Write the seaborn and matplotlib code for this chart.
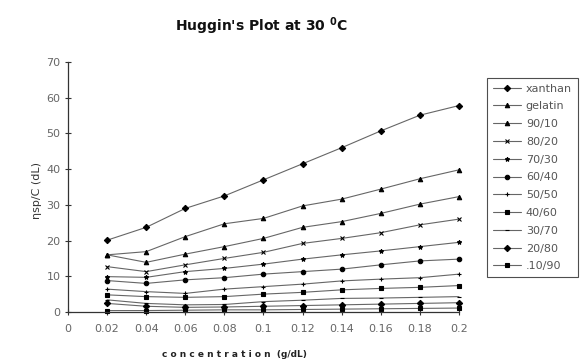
# Huggin's plot: reduced viscosity vs concentration for xanthan/gelatin blends
import numpy as np
import pandas as pd
import matplotlib
matplotlib.use("Agg")
import matplotlib.pyplot as plt
import seaborn as sns

conc = [0.02, 0.04, 0.06, 0.08, 0.1, 0.12, 0.14, 0.16, 0.18, 0.2]
series_names = ["xanthan", "gelatin", "90/10", "80/20", "70/30", "60/40",
                "50/50", "40/60", "30/70", "20/80", ".10/90"]
xanthan = [20.1, 23.7, 29.0, 32.5, 37.0, 41.5, 46.0, 50.7, 55.1, 57.8]
gelatin = [16.0, 16.9, 21.1, 24.7, 26.2, 29.7, 31.6, 34.4, 37.3, 39.8]
blend_90_10 = [16.0, 13.9, 16.2, 18.3, 20.6, 23.7, 25.3, 27.6, 30.2, 32.3]
blend_80_20 = [12.7, 11.3, 13.2, 15.0, 16.7, 19.2, 20.6, 22.2, 24.4, 26.0]
blend_70_30 = [9.9, 9.7, 11.3, 12.2, 13.4, 14.8, 16.0, 17.1, 18.3, 19.5]
blend_60_40 = [8.8, 8.0, 9.0, 9.6, 10.6, 11.3, 12.0, 13.2, 14.3, 14.8]
blend_50_50 = [6.4, 5.7, 5.2, 6.4, 7.1, 7.8, 8.7, 9.2, 9.6, 10.6]
blend_40_60 = [4.8, 4.3, 4.1, 4.3, 5.0, 5.5, 6.2, 6.6, 6.9, 7.4]
blend_30_70 = [3.4, 2.4, 2.0, 2.1, 2.9, 3.3, 3.8, 3.9, 4.1, 4.3]
blend_20_80 = [2.4, 1.6, 1.3, 1.4, 1.6, 1.8, 2.0, 2.2, 2.4, 2.6]
blend_10_90 = [0.4, 0.4, 0.5, 0.6, 0.6, 0.7, 0.8, 0.9, 1.0, 1.1]

all_values = [xanthan, gelatin, blend_90_10, blend_80_20, blend_70_30, blend_60_40,
              blend_50_50, blend_40_60, blend_30_70, blend_20_80, blend_10_90]
markers = ["D", "^", "^", "x", "*", "o", "+", "s", "_", "D", "s"]

df = pd.DataFrame({
    "conc": np.tile(conc, len(series_names)),
    "value": np.concatenate(all_values),
    "series": np.repeat(series_names, len(conc)),
})

sns.set_style("white")
plt.rcParams["font.family"] = ["DejaVu Sans"]

fig = plt.figure(figsize=(5.84, 3.64), dpi=100)
ax = fig.add_axes([0.1164, 0.1429, 0.6695, 0.6868])

for name, mk in zip(series_names, markers):
    sub = df[df["series"] == name]
    sns.lineplot(data=sub, x="conc", y="value", ax=ax, color="#666666",
                 linewidth=0.8, marker=mk, markersize=3.2,
                 markerfacecolor="black", markeredgecolor="black",
                 markeredgewidth=0.8, label=name, clip_on=False)

ax.set_xlim(0, 0.2)
ax.set_ylim(0, 70)
ax.set_xticks([0, 0.02, 0.04, 0.06, 0.08, 0.1, 0.12, 0.14, 0.16, 0.18, 0.2])
ax.set_xticklabels(["0", "0.02", "0.04", "0.06", "0.08", "0.1", "0.12",
                    "0.14", "0.16", "0.18", "0.2"])
ax.set_yticks(range(0, 71, 10))
for s in ["top", "right"]:
    ax.spines[s].set_visible(False)
for s in ["left", "bottom"]:
    ax.spines[s].set_color("#333333")
    ax.spines[s].set_linewidth(0.9)
ax.tick_params(axis="both", which="both", direction="inout", length=4,
               width=0.8, colors="#333333", labelsize=8, labelcolor="#666666",
               left=True, bottom=True)
ax.tick_params(axis="x", pad=7)
ax.set_xlabel("")
ax.set_ylabel("")

fig.text(0.401, 0.027, "c o n c e n t r a t i o n  (g/dL)", fontsize=6.5,
         fontweight="bold", ha="center", va="center", color="#222222")
fig.text(0.063, 0.478, "ηsp/C (dL)", fontsize=8, rotation=90,
         ha="center", va="center", color="#333333")
fig.text(0.447, 0.929, "Huggin's Plot at 30 $^{\\mathbf{0}}$C", fontsize=10,
         fontweight="bold", ha="center", va="center", color="#111111")

leg = ax.legend(loc="upper left", bbox_to_anchor=(1.0716, 0.936),
                borderaxespad=0, frameon=True, fontsize=8, handlelength=2.6,
                handletextpad=0.4, labelspacing=0.7, borderpad=0.5,
                fancybox=False, labelcolor="#555555")
leg.get_frame().set_edgecolor("#222222")
leg.get_frame().set_linewidth(0.8)

fig.savefig("out.png", dpi=100)
